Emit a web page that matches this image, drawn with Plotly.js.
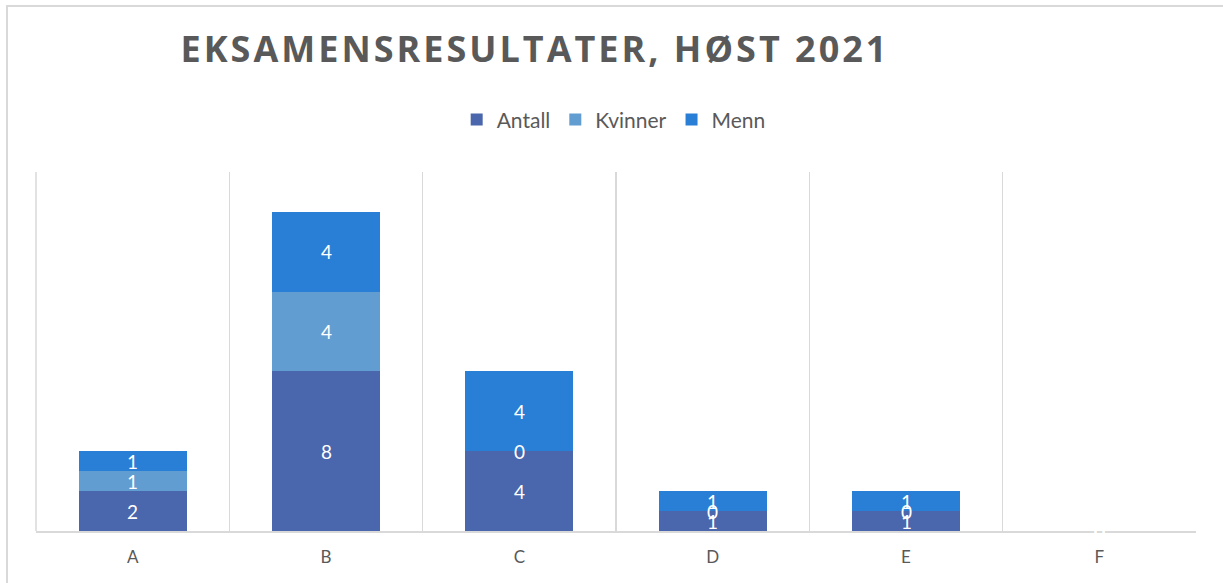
<!DOCTYPE html>
<html>
<head>
<meta charset="utf-8">
<script src="https://cdn.plot.ly/plotly-3.0.1.min.js"></script>
<style>html,body{margin:0;padding:0;background:#fff;}#chart{width:1223px;height:583px;}
#chart .gtitle{letter-spacing:3px;}</style>
</head>
<body>
<div id="chart"></div>
<script>
const categories = ["A", "B", "C", "D", "E", "F"];
const seriesNames = ["Antall", "Kvinner", "Menn"];
const antall = [2, 8, 4, 1, 1, 0];
const kvinner = [1, 4, 0, 0, 0, 0];
const menn = [1, 4, 4, 1, 1, 0];
const colors = ["#4a66ac", "#629dd1", "#297fd5"];

const series = [antall, kvinner, menn];
const traces = [];
series.forEach((vals, i) => {
  traces.push({
    type: "bar", name: seriesNames[i], x: categories, y: vals,
    marker: {color: colors[i]}, hoverinfo: "none"
  });
});
// data labels at segment centres, computed from the stacked values
const annotations = [];
const base = categories.map(() => 0);
series.forEach((vals, i) => {
  vals.forEach((v, j) => {
    annotations.push({
      x: categories[j], y: base[j] + v / 2, xref: "x", yref: "y",
      text: String(v), showarrow: false,
      font: {color: "#ffffff", size: 19, family: "Lato, 'Open Sans', sans-serif"}
    });
    base[j] += v;
  });
});

const layout = {
  width: 1223, height: 583,
  margin: {l: 36, r: 27, t: 172, b: 52},
  paper_bgcolor: "#ffffff", plot_bgcolor: "#ffffff",
  barmode: "stack", bargap: 0.44,
  font: {family: "Lato, 'Open Sans', sans-serif", color: "#595959"},
  title: {
    text: "EKSAMENSRESULTATER, HØST 2021",
    font: {family: "'Open Sans', sans-serif", size: 36, color: "#595959", weight: 700},
    x: 535 / 1223, xanchor: "center", xref: "container",
    y: 1 - 49 / 583, yanchor: "middle", yref: "container"
  },
  showlegend: true,
  legend: {
    orientation: "h", x: 0.498, xanchor: "center", y: 1.145, yanchor: "middle",
    font: {size: 21, color: "#595959"}, traceorder: "normal", itemwidth: 30
  },
  xaxis: {
    type: "category", tickson: "boundaries", showgrid: true, gridcolor: "#d9d9d9", gridwidth: 1.5,
    showline: true, linecolor: "#d9d9d9", linewidth: 2, ticks: "", ticklabelstandoff: 10,
    tickfont: {size: 17, color: "#595959"}, fixedrange: true
  },
  yaxis: {
    range: [0, 18], showgrid: false, zeroline: false, showticklabels: false, showline: false, fixedrange: true
  },
  annotations: annotations,
  shapes: [{
    type: "rect", xref: "paper", yref: "paper",
    x0: (7 - 36) / 1160, x1: (1240 - 36) / 1160,
    y0: (531 - 600) / 359, y1: (531 - 6) / 359,
    line: {color: "#d9d9d9", width: 2}, fillcolor: "rgba(0,0,0,0)", layer: "below"
  }, {
    type: "line", xref: "paper", yref: "paper", x0: 0, x1: 0, y0: 0, y1: 1,
    line: {color: "#d9d9d9", width: 1.5}, layer: "below"
  }]
};
Plotly.newPlot("chart", traces, layout, {displayModeBar: false, staticPlot: true});
</script>
</body>
</html>
